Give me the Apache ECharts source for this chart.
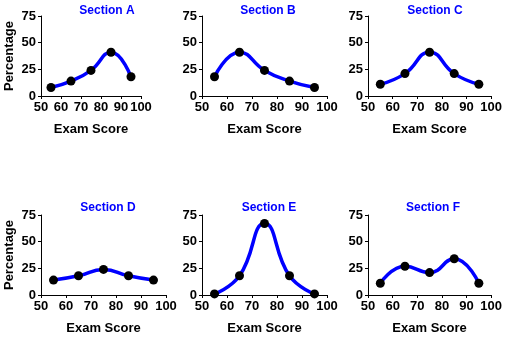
<!DOCTYPE html>
<html><head><meta charset="utf-8">
<script src="https://cdn.jsdelivr.net/npm/echarts@6/dist/echarts.min.js"></script>
<style>html,body{margin:0;padding:0;background:#fff}#c{width:505px;height:339px}</style>
</head><body><div id="c"></div>
<script>
const scores = [55, 65, 75, 85, 95];
const sectionNames = ["Section A", "Section B", "Section C", "Section D", "Section E", "Section F"];
const sectionA = [8, 14, 24, 41, 18];
const sectionB = [18, 41, 24, 14, 8];
const sectionC = [11, 21, 41, 21, 11];
const sectionD = [14, 18, 24, 18, 14];
const sectionE = [1, 18, 67, 18, 1];
const sectionF = [11, 27, 21, 34, 11];
const xTicks = [50, 60, 70, 80, 90, 100];
const yTicks = [0, 25, 50, 75];

const allData = [sectionA, sectionB, sectionC, sectionD, sectionE, sectionF];
const layout = [
  {left: 41, top: 16, width: 100, height: 80, tx: 102, ty: 0, ylab: true},
  {left: 202, top: 16, width: 125, height: 80, tx: 263, ty: 0, ylab: false},
  {left: 368, top: 16, width: 125, height: 80, tx: 430, ty: 0, ylab: false},
  {left: 41, top: 215, width: 125, height: 80, tx: 103, ty: 197, ylab: true},
  {left: 202, top: 215, width: 125, height: 80, tx: 264, ty: 197, ylab: false},
  {left: 368, top: 215, width: 125, height: 80, tx: 428, ty: 197, ylab: false}
];
const fontFam = "'Liberation Sans', Arial, sans-serif";
const grids = [], xAxes = [], yAxes = [], series = [], titles = [];
layout.forEach((L, i) => {
  grids.push({left: L.left, top: L.top, width: L.width, height: L.height, containLabel: false});
  titles.push({text: sectionNames[i], left: L.tx, top: L.ty, textAlign: 'center',
    textStyle: {color: '#0000ff', fontWeight: 'bold', fontSize: 12, fontFamily: fontFam}});
  xAxes.push({type: 'value', gridIndex: i, min: xTicks[0], max: xTicks[xTicks.length-1], interval: 10,
    name: 'Exam Score', nameLocation: 'middle', nameGap: 27,
    nameTextStyle: {color: '#000', fontWeight: 'bold', fontSize: 13, fontFamily: fontFam},
    axisLine: {onZero: false, lineStyle: {color: '#000', width: 1}},
    axisTick: {show: true, length: 3, lineStyle: {color: '#000'}},
    axisLabel: {color: '#000', fontWeight: 'bold', fontSize: 13, fontFamily: fontFam, margin: 5},
    splitLine: {show: false}});
  yAxes.push({type: 'value', gridIndex: i, min: yTicks[0], max: yTicks[yTicks.length-1], interval: 25,
    name: L.ylab ? 'Percentage' : '', nameLocation: 'middle', nameGap: 25, nameRotate: 90,
    nameTextStyle: {color: '#000', fontWeight: 'bold', fontSize: 13, fontFamily: fontFam},
    axisLine: {show: true, lineStyle: {color: '#000', width: 1}},
    axisTick: {show: true, length: 3, lineStyle: {color: '#000'}},
    axisLabel: {color: '#000', fontWeight: 'bold', fontSize: 13, fontFamily: fontFam, margin: 5},
    splitLine: {show: false}});
  series.push({type: 'line', xAxisIndex: i, yAxisIndex: i, smooth: 0.5,
    data: scores.map((s, j) => [s, allData[i][j]]),
    lineStyle: {color: '#0000ff', width: 3.5},
    symbol: 'circle', symbolSize: 9,
    itemStyle: {color: '#000', borderColor: '#000', borderWidth: 0},
    z: 3, animation: false});
});
const chart = echarts.init(document.getElementById('c'), null, {renderer: 'canvas'});
chart.setOption({animation: false, title: titles, grid: grids, xAxis: xAxes, yAxis: yAxes, series: series});
</script></body></html>
